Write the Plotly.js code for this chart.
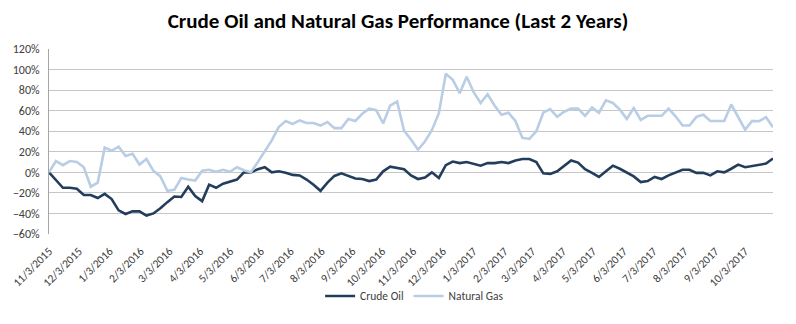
<!DOCTYPE html>
<html>
<head>
<meta charset="utf-8">
<script src="https://cdn.plot.ly/plotly-3.0.1.min.js"></script>
<style>
html,body{margin:0;padding:0;background:#fff;}
#chart{width:796px;height:324px;}
</style>
</head>
<body>
<div id="chart"></div>
<script>
// Weekly observations starting 11/3/2015
const startDate = '2015-11-03';
const seriesNames = ['Crude Oil', 'Natural Gas'];

// Cumulative performance, percent
const crudeOil = [
  0, -8, -15, -15, -16, -22, -22, -25, -21, -26,
  -37, -40.5, -38, -38, -42, -40, -35, -29, -23.5, -24,
  -14, -23, -28, -12, -15, -11, -9, -7, 0, 0,
  3, 5, 0, 1, -0.5, -2.5, -3, -7, -12, -18,
  -10, -3.5, -1, -3.5, -6, -6.5, -8.5, -7, 1, 5.5,
  4.5, 3, -3, -6.5, -5, 0, -5.5, 7, 10.5, 9,
  10, 8.5, 6.5, 9, 9, 10, 9, 11.5, 13, 13,
  10, -1, -1.5, 1, 6.5, 11.5, 9.5, 3, -0.5, -4.5,
  1, 6.5, 3.5, 0, -4, -9.5, -8.5, -4.5, -6.5, -3,
  0, 2.5, 2.5, -0.5, -0.5, -3, 1, 0, 3.5, 7.5,
  5, 6, 7.5, 8.5, 13.5
];
const naturalGas = [
  0, 11, 7, 11, 10, 5, -14, -10, 24, 21,
  25, 16, 18, 7.5, 13, 1.5, -4, -18, -17, -5.5,
  -7, -8, 1.5, 2.5, 0.5, 2.5, 0.5, 5, 2, 0,
  10, 20, 31, 44, 50, 47, 50.5, 48, 48, 45.5,
  49, 43, 43, 52, 50, 57, 62, 60.5, 47.5, 65,
  69, 40.5, 32, 22, 30, 41, 57.5, 96, 90, 77,
  93, 78, 67.5, 76, 65, 56, 58, 50, 33.5, 32.5,
  40, 58, 61.5, 54, 59, 62, 62, 55, 63, 58,
  70, 67.5, 61, 52, 62.5, 51, 55, 55, 55, 62,
  54.5, 45.5, 45.5, 54, 56, 50, 50, 50, 66, 54.5,
  41.6, 50, 49.7, 53.6, 43.8
];

// weekly date categories
const dates = [];
(function(){
  const d0 = new Date(startDate + 'T00:00:00Z');
  for (let i = 0; i < crudeOil.length; i++) {
    const d = new Date(d0.getTime() + i * 7 * 86400000);
    dates.push(d.toISOString().slice(0, 10));
  }
})();

const FONT = 'Carlito, Calibri, "Open Sans", sans-serif';
const GRID = '#c6c6c6';
const TXT = '#404040';

const traces = [
  {x: dates, y: crudeOil, name: seriesNames[0], type: 'scatter', mode: 'lines',
   line: {color: '#233d5c', width: 2.6}},
  {x: dates, y: naturalGas, name: seriesNames[1], type: 'scatter', mode: 'lines',
   line: {color: '#b9cde5', width: 2.6}}
];

const layout = {
  width: 796, height: 324,
  margin: {l: 49, r: 23, t: 49, b: 90},
  paper_bgcolor: '#fff', plot_bgcolor: '#fff',
  font: {family: FONT, color: TXT, size: 11},
  title: {text: '<b>Crude Oil and Natural Gas Performance (Last 2 Years)</b>',
          font: {family: FONT, size: 21, color: '#000'}, x: 0.5, xanchor: 'center', y: 0.935, yanchor: 'middle'},
  showlegend: true,
  legend: {orientation: 'h', x: 0.505, xanchor: 'center', y: -0.335, yanchor: 'middle',
           bgcolor: 'rgba(0,0,0,0)', itemwidth: 30,
           font: {family: FONT, size: 11.5, color: TXT}, traceorder: 'normal'},
  xaxis: {
    type: 'date', range: [dates[0], dates[dates.length - 1]],
    tick0: startDate, dtick: 'M1', tickformat: '%-m/%-d/%Y', tickangle: -45,
    showgrid: false, zeroline: false, showline: false,
    ticks: 'outside', ticklen: 5, tickcolor: 'rgba(0,0,0,0)',
    tickfont: {family: FONT, size: 11.5, color: TXT}, fixedrange: true
  },
  xaxis2: {
    matches: 'x', overlaying: 'x', anchor: 'free', position: 1/3,
    type: 'date', tick0: startDate, dtick: 'M1',
    showticklabels: false, showgrid: false, zeroline: false,
    showline: true, linecolor: '#a6a6a6', linewidth: 1,
    ticks: 'outside', ticklen: 4, tickcolor: '#a6a6a6', tickwidth: 1
  },
  yaxis: {
    range: [-60, 120], dtick: 20, ticksuffix: '%',
    showgrid: true, gridcolor: GRID, gridwidth: 1,
    zeroline: false, showline: true, linecolor: '#a6a6a6', linewidth: 1,
    ticks: '', ticklabelstandoff: 6,
    tickfont: {family: FONT, size: 12, color: TXT}, fixedrange: true
  }
};

Plotly.newPlot('chart', traces, layout, {displayModeBar: false, staticPlot: true});
</script>
</body>
</html>
